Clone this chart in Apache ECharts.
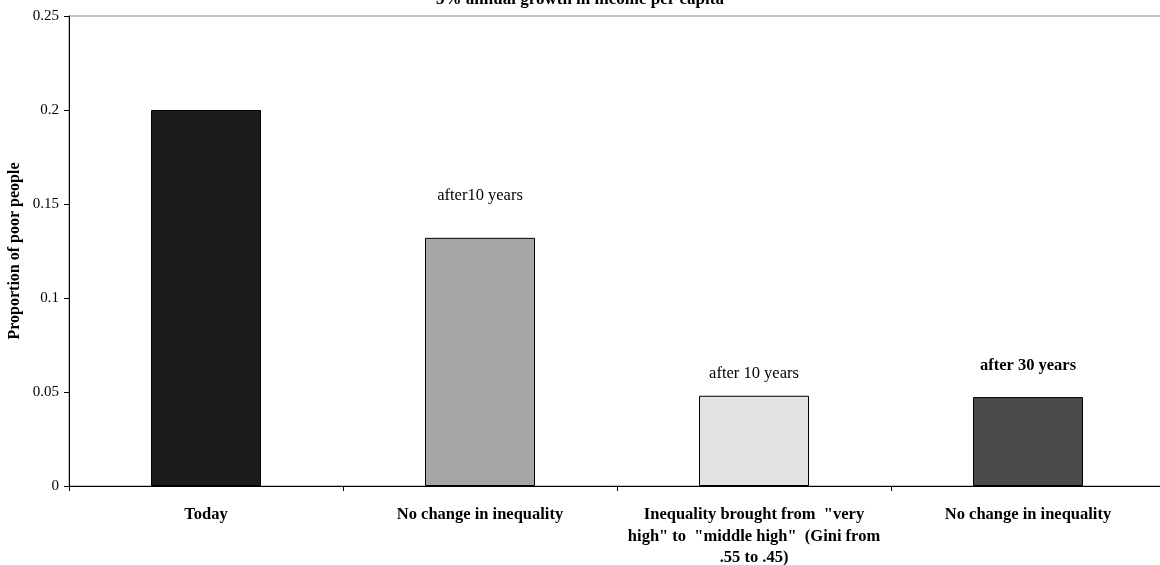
<!DOCTYPE html>
<html>
<head>
<meta charset="utf-8">
<script src="https://cdn.jsdelivr.net/npm/echarts@6/dist/echarts.min.js"></script>
<style>html,body{margin:0;padding:0;background:#fff;}#c{width:1160px;height:565px;}</style>
</head>
<body>
<div id="c"></div>
<script>
var categories = ['Today', 'No change in inequality', 'Inequality brought from  "very\nhigh" to  "middle high"  (Gini from\n.55 to .45)', 'No change in inequality'];
var values = [0.2, 0.132, 0.048, 0.0473];
var annotations = ['', 'after10 years', 'after 10 years', 'after 30 years'];
var barColors = ['#1c1c1c', '#a6a6a6', '#e3e3e3', '#4b4b4b'];
var yTicks = [0, 0.05, 0.1, 0.15, 0.2, 0.25];
var titleText = '3% annual growth in income per capita';
var yName = 'Proportion of poor people';

var FONT = '"Liberation Serif", "Times New Roman", serif';
var labelDist = [0, 34, 14, 23];
var labelBold = [false, false, false, true];

var chart = echarts.init(document.getElementById('c'));
chart.setOption({
  animation: false,
  backgroundColor: '#fff',
  grid: { left: 69, top: 16, right: -5, bottom: 79, containLabel: false, outerBoundsMode: 'none', show: true, borderColor: '#888', borderWidth: 1, backgroundColor: 'transparent' },
  graphic: [
    { type: 'text', left: 'center', top: -9, style: { text: titleText, font: 'bold 17px ' + FONT, fill: '#000' } },
    { type: 'text', x: 7, y: 251, rotation: Math.PI / 2, style: { text: yName, font: 'bold 16px ' + FONT, fill: '#000', align: 'center', verticalAlign: 'top' } }
  ],
  xAxis: {
    type: 'category',
    data: categories,
    axisLine: { lineStyle: { color: '#000', width: 1 } },
    axisTick: { show: true, length: 5, lineStyle: { color: '#000' } },
    axisLabel: { interval: 0, margin: 18, color: '#000', fontFamily: FONT, fontSize: 16.5, fontWeight: 'bold', lineHeight: 21.5 },
    splitLine: { show: false }
  },
  yAxis: {
    type: 'value',
    min: yTicks[0],
    max: yTicks[yTicks.length - 1],
    interval: 0.05,
    axisLine: { show: true, lineStyle: { color: '#000', width: 1 } },
    axisTick: { show: true, length: 5, lineStyle: { color: '#000' } },
    axisLabel: { color: '#000', fontFamily: FONT, fontSize: 15, margin: 10 },
    splitLine: { show: false }
  },
  series: [{
    type: 'bar',
    barWidth: 110,
    data: values.map(function (v, i) {
      return {
        value: v,
        itemStyle: { color: barColors[i], borderColor: '#000', borderWidth: 1 },
        label: {
          show: annotations[i] !== '',
          position: 'top',
          distance: labelDist[i],
          formatter: annotations[i],
          color: '#000',
          fontFamily: FONT,
          fontSize: 16.5,
          fontWeight: labelBold[i] ? 'bold' : 'normal'
        }
      };
    })
  }]
});
</script>
</body>
</html>
